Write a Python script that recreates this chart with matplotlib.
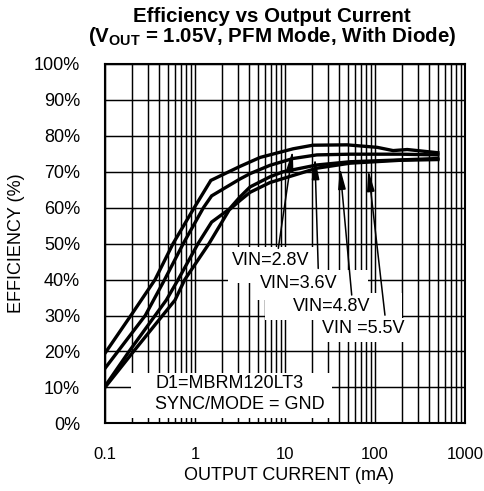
import matplotlib
matplotlib.use("Agg")
import matplotlib.pyplot as plt
from matplotlib.ticker import FixedLocator, NullFormatter

plt.rcParams['font.family'] = ['Liberation Sans', 'DejaVu Sans']
plt.rcParams['mathtext.fontset'] = 'custom'
plt.rcParams['mathtext.rm'] = 'Liberation Sans'
plt.rcParams['mathtext.bf'] = 'Liberation Sans:bold'
plt.rcParams['mathtext.it'] = 'Liberation Sans:italic'

# ---- data ----
current_28 = [0.1, 0.2, 0.36, 0.57, 0.98, 1.5, 3.16, 5.3, 12.3, 20.4, 49, 106, 159, 228, 500]
eff_28 = [19.5, 30.5, 40, 50, 60, 67.6, 71.5, 74.0, 76.4, 77.4, 77.5, 76.8, 75.9, 76.2, 75.3]

current_36 = [0.1, 0.28, 0.46, 0.74, 1.24, 1.53, 3.16, 4.1, 6.8, 12.3, 22.6, 53, 190, 500]
eff_36 = [15.3, 30, 40, 50, 60, 63.3, 68.0, 69.5, 71.8, 73.7, 74.7, 74.9, 74.9, 74.7]

current_48 = [0.1, 0.185, 0.48, 0.65, 1.08, 1.53, 2.4, 3.16, 4.1, 6.8, 9.5, 22.6, 53, 190, 500]
eff_48 = [10.3, 20, 34.3, 40, 50, 56, 59.6, 63, 65.8, 68.6, 70, 71.9, 72.8, 73.3, 73.7]

current_55 = [0.1, 0.2, 0.6, 0.77, 1.43, 2.4, 3.16, 4.1, 6.8, 22.6, 53, 190, 500]
eff_55 = [10.0, 19.5, 34.3, 40, 50, 59.4, 62, 64.3, 67, 71, 72.4, 73.2, 73.4]

series = [("VIN=2.8V", current_28, eff_28),
          ("VIN=3.6V", current_36, eff_36),
          ("VIN=4.8V", current_48, eff_48),
          ("VIN =5.5V", current_55, eff_55)]

x_major = [0.1, 1, 10, 100, 1000]
x_major_labels = ["0.1", "1", "10", "100", "1000"]
y_ticks = list(range(0, 101, 10))
y_tick_labels = [f"{v}%" for v in y_ticks]

# ---- figure ----
W, H = 485, 491
fig = plt.figure(figsize=(W / 100, H / 100), dpi=100)
ax = fig.add_axes([105 / W, 1 - 423.3 / H, 360 / W, 359.3 / H])
ax.set_xscale('log')
ax.set_xlim(0.1, 1000)
ax.set_ylim(0, 100)

ax.xaxis.set_major_locator(FixedLocator(x_major))
ax.set_xticklabels(x_major_labels)
minors = [m * d for d in (0.1, 1, 10, 100) for m in range(2, 10)]
ax.xaxis.set_minor_locator(FixedLocator(minors))
ax.xaxis.set_minor_formatter(NullFormatter())
ax.set_yticks(y_ticks)
ax.set_yticklabels(y_tick_labels)
ax.tick_params(which='both', length=0)
ax.tick_params(axis='x', labelsize=12, pad=17)
ax.tick_params(axis='y', labelsize=13, pad=18)

ax.set_axisbelow(True)
ax.grid(True, which='both', color='black', lw=1.05)
for s in ax.spines.values():
    s.set_linewidth(1.5)
    s.set_zorder(6)

# curves
for name, cur, eff in series:
    ax.plot(cur, eff, color='black', lw=2.4, zorder=3, solid_joinstyle='miter')

# white label boxes (annotation backgrounds)
boxes = [((0.195, 33.3), (1.5, 14.0)),
         ((2.33, 23.3), (39.1, 49.1)),
         ((4.64, 83.6), (34.3, 42.7)),
         ((6.0, 200), (28.8, 36.3)),
         ((23.3, 245), (22.7, 29.3))]
for (x0, x1), (y0, y1) in boxes:
    ax.fill([x0, x1, x1, x0], [y0, y0, y1, y1], color='white', lw=0, zorder=2)

# labels with arrows
label_pos = [(2.56, 45.3), (5.27, 39.0), (12.4, 32.5), (25.6, 26.4)]
arrow_tail = [(8.43, 48.7), (23.4, 43.1), (55.1, 35.7), (129, 30.1)]
arrow_tip = [(12.2, 76.0), (21.5, 73.9), (40.8, 71.2), (84.3, 70.6)]
for (name, _, _), lp, tl, tp in zip(series, label_pos, arrow_tail, arrow_tip):
    ax.text(lp[0], lp[1], name, ha='left', va='center', fontsize=13, zorder=5)
    ax.annotate('', xy=tp, xytext=tl,
                arrowprops=dict(arrowstyle='-|>,head_length=0.9,head_width=0.16',
                                color='black', lw=1.1, mutation_scale=14,
                                shrinkA=0, shrinkB=0),
                zorder=5)

ax.text(0.36, 11.1, "D1=MBRM120LT3", ha='left', va='center', fontsize=13, zorder=5)
ax.text(0.36, 5.3, "SYNC/MODE = GND", ha='left', va='center', fontsize=13, zorder=5)

# titles and axis labels
fig.text(272 / W, 1 - 16.5 / H, "Efficiency vs Output Current", ha='center', va='center',
         fontsize=14.8, fontweight='bold')
fig.text(272 / W, 1 - 36.5 / H, r"(V$_{\mathbf{OUT}}$ = 1.05V, PFM Mode, With Diode)",
         ha='center', va='center', fontsize=14.8, fontweight='bold')
fig.text(289 / W, 1 - 476 / H, "OUTPUT CURRENT (mA)", ha='center', va='center', fontsize=13)
fig.text(17 / W, 1 - 243 / H, "EFFICIENCY (%)", ha='center', va='center', fontsize=13,
         rotation=90)

fig.savefig("out.png", dpi=100)
